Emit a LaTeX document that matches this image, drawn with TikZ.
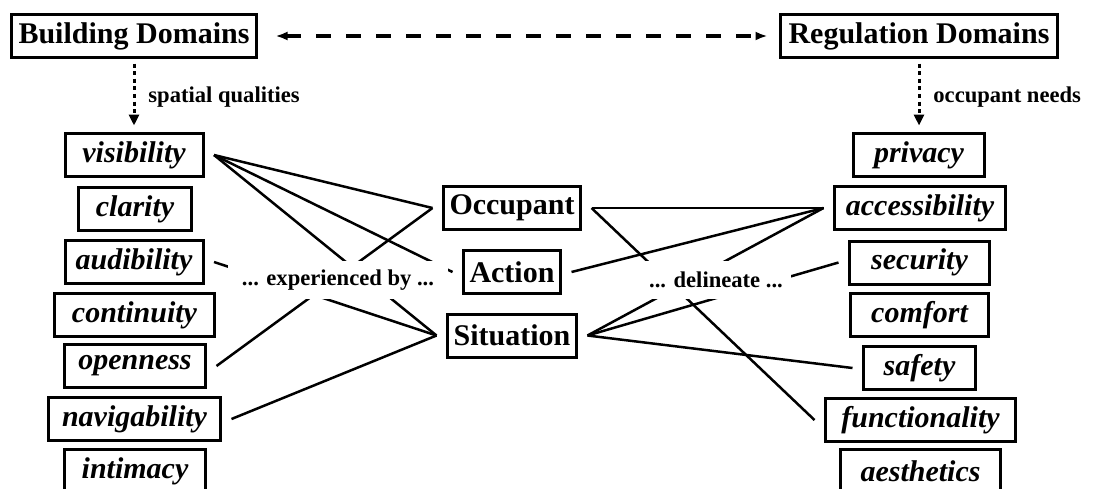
\documentclass[tikz,border=0pt]{standalone}
\usepackage{fontspec}
\setmainfont{Liberation Serif}
\usetikzlibrary{arrows.meta}
\begin{document}
\begin{tikzpicture}[x=0.5pt,y=-0.5pt,
  box/.style={draw,line width=1.5pt,inner sep=0pt,minimum height=21.5pt,
    font=\fontsize{15}{18}\selectfont\bfseries\itshape,outer xsep=5.5pt,outer ysep=0pt},
  mid/.style={box,font=\fontsize{15}{18}\selectfont\bfseries},
  title/.style={draw,line width=1.5pt,inner sep=0pt,minimum height=21.5pt,
    font=\fontsize{15}{18}\selectfont\bfseries,outer sep=0pt},
  lab/.style={font=\fontsize{11.3}{13}\selectfont\bfseries,inner sep=0pt},
  cover/.style={lab,fill=white,minimum height=19pt},
  link/.style={line width=1.25pt},
  need/.style={line width=1.5pt,dash pattern=on 2pt off 1.8pt,
    -{Triangle[length=5.5pt,width=5pt]},shorten <=3pt,shorten >=4pt},
  relate/.style={line width=1.6pt,dash pattern=on 7.5pt off 7.5pt,
    {Latex[length=6pt,width=4.5pt]}-{Latex[length=6pt,width=4.5pt]}},
]
\useasboundingbox (0,0) rectangle (1101,488);

% titles
\node[title,minimum width=122.5pt] (bd) at (134,36) {Building Domains};
\node[title,minimum width=138.5pt] (rd) at (919,36) {Regulation Domains};

% left column
\node[box,minimum width=69pt]   (vis) at (134,155)   {visibility};
\node[box,minimum width=56.5pt] (cla) at (135,209)   {clarity};
\node[box,minimum width=69pt]   (aud) at (134,262)   {audibility};
\node[box,minimum width=80pt]   (con) at (134.5,315) {continuity};
\node[box,minimum width=70.5pt] (ope) at (135,366)   {openness};
\node[box,minimum width=86pt]   (nav) at (134.5,419) {navigability};
\node[box,minimum width=70.5pt] (int) at (135,471)   {intimacy};

% right column
\node[box,minimum width=65.5pt] (pri) at (919,155)   {privacy};
\node[box,minimum width=85.5pt] (acc) at (920,208)   {accessibility};
\node[box,minimum width=70pt]   (sec) at (919.5,262.5) {security};
\node[box,minimum width=69pt]   (com) at (919.5,315) {comfort};
\node[box,minimum width=56pt]   (saf) at (919.5,368) {safety};
\node[box,minimum width=95pt]   (fun) at (920.5,420) {functionality};
\node[box,minimum width=80pt]   (aes) at (920.5,471) {aesthetics};

% centre column
\node[mid,minimum width=68.5pt] (occ) at (512,208)   {Occupant};
\node[mid,minimum width=48.5pt] (act) at (512,272)   {Action};
\node[mid,minimum width=64.5pt] (sit) at (512,335.5) {Situation};

% top relations
\draw[relate,shorten <=9.5pt,shorten >=6.5pt] (bd.east) -- (rd.west);
\draw[need] (bd.south) -- (vis.north);
\draw[need] (rd.south) -- (pri.north);
\node[lab,anchor=west] (sq) at (148,97) {spatial qualities};
\node[lab,anchor=west] (on) at (933,97) {occupant needs};

% left links
\draw[link] (vis.east) -- (occ.west);
\draw[link] (vis.east) -- (act.west);
\draw[link] (vis.east) -- (sit.west);
\draw[link] (aud.east) -- (sit.west);
\draw[link] (ope.east) -- (occ.west);
\draw[link] (nav.east) -- (sit.west);

% right links
\draw[link] (occ.east) -- (acc.west);
\draw[link] (occ.east) -- (fun.west);
\draw[link] (act.east) -- (acc.west);
\draw[link] (sit.east) -- (acc.west);
\draw[link] (sit.east) -- (sec.west);
\draw[link] (sit.east) -- (saf.west);

% labels covering the links
\node[cover,minimum width=110pt] (exp) at (338,280) {... experienced by ...};
\node[cover,minimum width=75pt]  (del) at (716,280) {... delineate ...};
\end{tikzpicture}
\end{document}
